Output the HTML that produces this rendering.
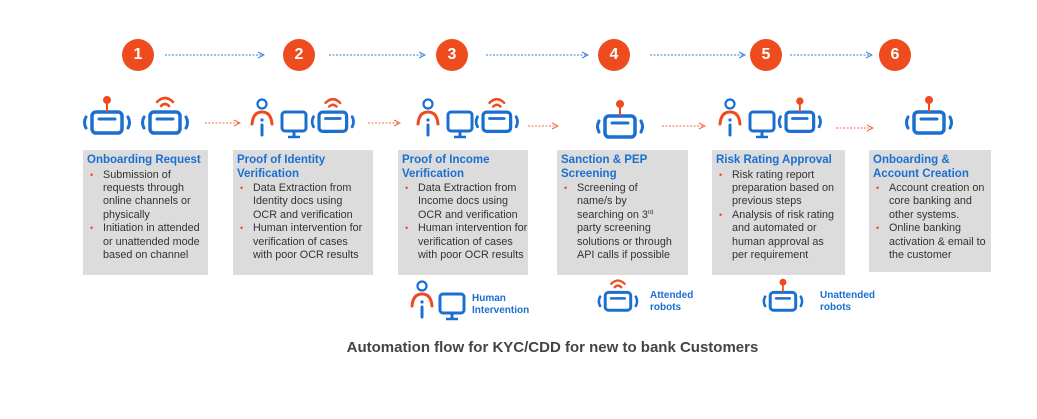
<!DOCTYPE html>
<html><head><meta charset="utf-8"><style>
body{margin:0;width:1037px;height:419px;background:#fff;position:relative;overflow:hidden;font-family:"Liberation Sans",Arial,sans-serif}
.c{position:absolute;width:32px;height:32px;border-radius:50%;background:#ee4b1f;color:#fff;font-weight:bold;font-size:16px;text-align:center;line-height:32px;top:39px}
.b{position:absolute;top:150px;height:125px;background:#dcdcdc;box-sizing:border-box;padding:4px 0 0 4px}
.t{color:#1a6fd1;font-weight:bold;font-size:11.5px;line-height:13.5px;margin-bottom:1px}
.b ul{margin:0;padding:0;list-style:none}
.b li{position:relative;padding-left:16px;font-size:10.8px;line-height:13.4px;color:#333;white-space:nowrap}
.b li:before{content:"•";color:#ee4b1f;position:absolute;left:3px;top:0;font-size:9px}
sup{font-size:6px;line-height:0;vertical-align:4px}
svg{position:absolute;left:0;top:0}
.lg{position:absolute;color:#1a6fd1;font-weight:bold;font-size:10px;line-height:11.5px}
</style></head><body>
<svg width="1037" height="419">
<defs>
<g id="rb" fill="none" stroke="#1a6fd1" stroke-linecap="round">
<rect x="12" y="24" width="30" height="21" rx="4" stroke-width="3.5"/>
<line x1="19" y1="31" x2="35" y2="31" stroke-width="3"/>
<path d="M6 29 Q3 34.5 6 40" stroke-width="3"/>
<path d="M48 29 Q51 34.5 48 40" stroke-width="3"/>
</g>
<g id="pin"><use href="#rb"/><line x1="27" y1="13" x2="27" y2="24" stroke="#ee4b1f" stroke-width="2"/><circle cx="27" cy="12" r="4" fill="#ee4b1f"/></g>
<g id="wifi"><use href="#rb"/><g fill="none" stroke="#ee4b1f" stroke-width="2.6" stroke-linecap="round"><path d="M19 14 Q27 6 35 14"/><path d="M23 18 Q27 14 31 18"/></g></g>
<g id="hum" fill="none" stroke-linecap="round">
<circle cx="12" cy="16" r="4.5" stroke="#1a6fd1" stroke-width="2.2"/>
<path d="M2 36 Q3 24 12 24 Q21 24 22 36" stroke="#ee4b1f" stroke-width="3"/>
<circle cx="12" cy="32" r="1.6" fill="#1a6fd1"/>
<line x1="12" y1="37" x2="12" y2="47" stroke="#1a6fd1" stroke-width="3"/>
</g>
<g id="mon" fill="none" stroke="#1a6fd1">
<rect x="2" y="24" width="24" height="19" rx="3" stroke-width="3"/>
<line x1="14" y1="43" x2="14" y2="48" stroke-width="3"/>
<line x1="8" y1="49" x2="20" y2="49" stroke-width="2.5"/>
</g>
<marker id="ab" markerWidth="8" markerHeight="8" refX="7" refY="4" orient="auto" markerUnits="userSpaceOnUse"><path d="M1 1 L7 4 L1 7" fill="none" stroke="#3a7fd5" stroke-width="1"/></marker>
<marker id="ar" markerWidth="8" markerHeight="8" refX="7" refY="4" orient="auto" markerUnits="userSpaceOnUse"><path d="M1 1 L7 4 L1 7" fill="none" stroke="#ee6a4a" stroke-width="1"/></marker>
</defs>
<g stroke="#3a7fd5" stroke-width="1" stroke-dasharray="2,1.5" marker-end="url(#ab)">
<line x1="165" y1="55" x2="264" y2="55"/><line x1="329" y1="55" x2="425" y2="55"/>
<line x1="486" y1="55" x2="588" y2="55"/><line x1="650" y1="55" x2="745" y2="55"/>
<line x1="790" y1="55" x2="872" y2="55"/>
</g>
<g stroke="#ee6a4a" stroke-width="1" stroke-dasharray="2,1.5" marker-end="url(#ar)">
<line x1="205" y1="123" x2="240" y2="123"/><line x1="368" y1="123" x2="400" y2="123"/>
<line x1="528" y1="126" x2="558" y2="126"/><line x1="662" y1="126" x2="705" y2="126"/>
<line x1="836" y1="128" x2="873" y2="128"/>
</g>
<use href="#pin" x="80" y="88"/><use href="#wifi" x="138" y="88"/>
<use href="#hum" x="250" y="88"/><use href="#mon" x="280" y="88"/>
<g transform="translate(308,90) scale(0.92)"><use href="#wifi"/></g>
<use href="#hum" x="416" y="88"/><use href="#mon" x="446" y="88"/>
<g transform="translate(472,90) scale(0.92)"><use href="#wifi"/></g>
<use href="#pin" x="593" y="92"/>
<use href="#hum" x="718" y="88"/><use href="#mon" x="748" y="88"/>
<g transform="translate(775,90) scale(0.92)"><use href="#pin"/></g>
<use href="#pin" x="902" y="88"/>
<use href="#hum" x="410" y="270"/><use href="#mon" x="438" y="270"/>
<g transform="translate(595,272) scale(0.85)"><use href="#wifi"/></g>
<g transform="translate(760,272) scale(0.85)"><use href="#pin"/></g>
</svg>
<div class="c" style="left:122px">1</div><div class="c" style="left:283px">2</div><div class="c" style="left:436px">3</div>
<div class="c" style="left:598px">4</div><div class="c" style="left:750px">5</div><div class="c" style="left:879px">6</div>

<div class="b" style="left:83px;width:125px"><div class="t">Onboarding Request</div><ul>
<li>Submission of<br>requests through<br>online channels or<br>physically</li><li>Initiation in attended<br>or unattended mode<br>based on channel</li></ul></div>
<div class="b" style="left:233px;width:140px"><div class="t">Proof of Identity<br>Verification</div><ul>
<li>Data Extraction from<br>Identity docs using<br>OCR and verification</li><li>Human intervention for<br>verification of cases<br>with poor OCR results</li></ul></div>
<div class="b" style="left:398px;width:130px"><div class="t">Proof of Income<br>Verification</div><ul>
<li>Data Extraction from<br>Income docs using<br>OCR and verification</li><li>Human intervention for<br>verification of cases<br>with poor OCR results</li></ul></div>
<div class="b" style="left:557px;width:131px"><div class="t">Sanction &amp; PEP<br>Screening</div><ul>
<li>Screening of<br>name/s by<br>searching on 3<sup>rd</sup><br>party screening<br>solutions or through<br>API calls if possible</li></ul></div>
<div class="b" style="left:712px;width:133px"><div class="t">Risk Rating Approval</div><ul>
<li>Risk rating report<br>preparation based on<br>previous steps</li><li>Analysis of risk rating<br>and automated or<br>human approval as<br>per requirement</li></ul></div>
<div class="b" style="left:869px;width:122px;height:122px"><div class="t">Onboarding &amp;<br>Account Creation</div><ul>
<li>Account creation on<br>core banking and<br>other systems.</li><li>Online banking<br>activation &amp; email to<br>the customer</li></ul></div>

<div class="lg" style="left:472px;top:293px">Human<br>Intervention</div>
<div class="lg" style="left:650px;top:290px">Attended<br>robots</div>
<div class="lg" style="left:820px;top:290px">Unattended<br>robots</div>
<div style="position:absolute;left:0;width:1105px;top:339px;text-align:center;font-weight:bold;font-size:15px;color:#444">Automation flow for KYC/CDD for new to bank Customers</div>
</body></html>
